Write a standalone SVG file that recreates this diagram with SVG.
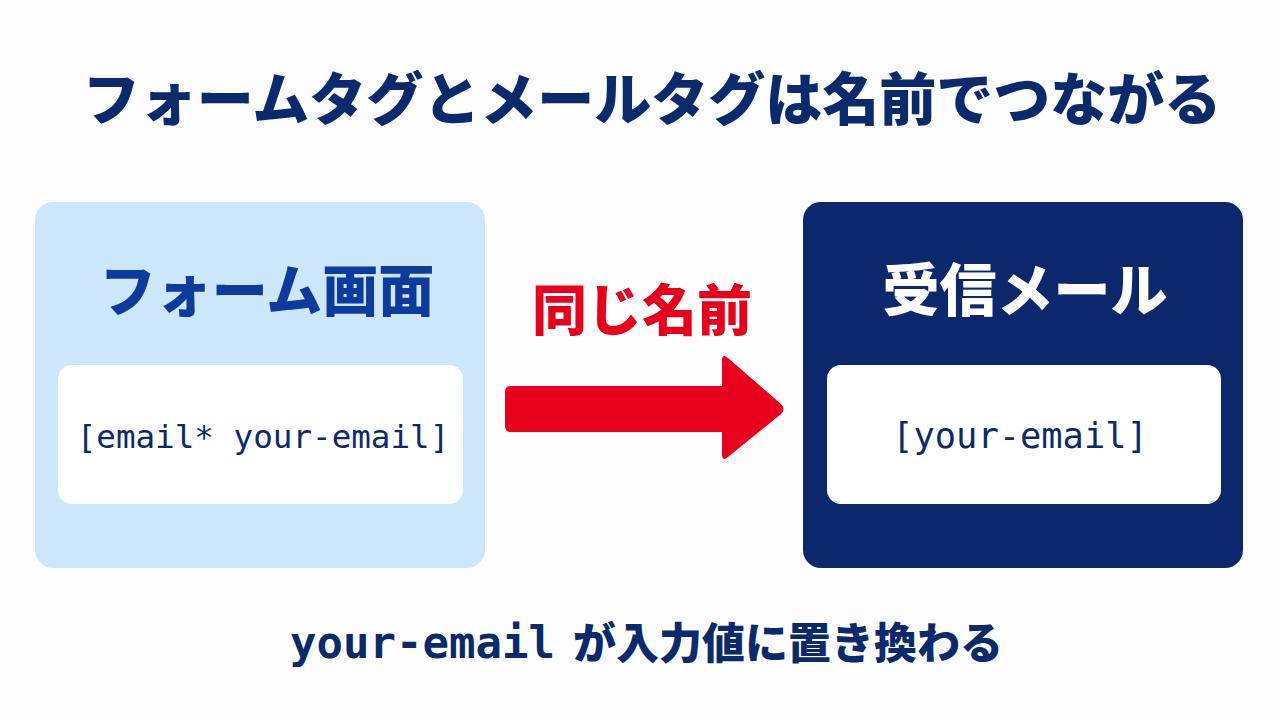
<svg xmlns="http://www.w3.org/2000/svg" width="1280" height="720" viewBox="0 0 1280 720">
  <style>
    .jp { font-family: "Noto Sans CJK JP", "Noto Sans", sans-serif; font-weight: 900; }
    .mono { font-family: "DejaVu Sans Mono", "Liberation Mono", monospace; }
    .navy { fill: #0b2a6b; }
  </style>
  <rect x="0" y="0" width="1280" height="720" fill="#fdfdfe"/>

  <g id="title">
    <text x="652" y="120" font-size="57" text-anchor="middle" class="jp navy">フォームタグとメールタグは名前でつながる</text>
  </g>

  <g id="form-node">
    <rect x="35" y="202" width="450" height="366" rx="18" fill="#cce6fb"/>
    <text x="267" y="311" font-size="56" text-anchor="middle" class="jp" fill="#0d3a9c">フォーム画面</text>
    <rect x="58" y="365" width="405" height="139" rx="14" fill="#ffffff"/>
    <text x="263" y="448" font-size="32.6" text-anchor="middle" class="mono navy">[email* your-email]</text>
  </g>

  <g id="mail-node">
    <rect x="803" y="202" width="440" height="366" rx="18" fill="#0c276b"/>
    <text x="1025" y="311" font-size="57" text-anchor="middle" class="jp" fill="#ffffff">受信メール</text>
    <rect x="827" y="365" width="394" height="139" rx="14" fill="#ffffff"/>
    <text x="1020" y="448" font-size="35.4" text-anchor="middle" class="mono navy">[your-email]</text>
  </g>

  <g id="connectors">
    <path d="M511,386 L722,386 L722,361 Q722,353 728,358 L781,404 Q786,409 781,414 L728,457 Q722,462 722,454 L722,432 L511,432 Q505,432 505,426 L505,392 Q505,386 511,386 Z" fill="#e8001c"/>
    <text x="642" y="330" font-size="55" text-anchor="middle" class="jp" fill="#e8001c">同じ名前</text>
  </g>

  <g id="caption">
    <text x="290" y="658" font-size="44" class="mono navy" font-weight="700">your-email</text>
    <text x="573" y="659" font-size="43" class="jp navy">が入力値に置き換わる</text>
  </g>
</svg>
